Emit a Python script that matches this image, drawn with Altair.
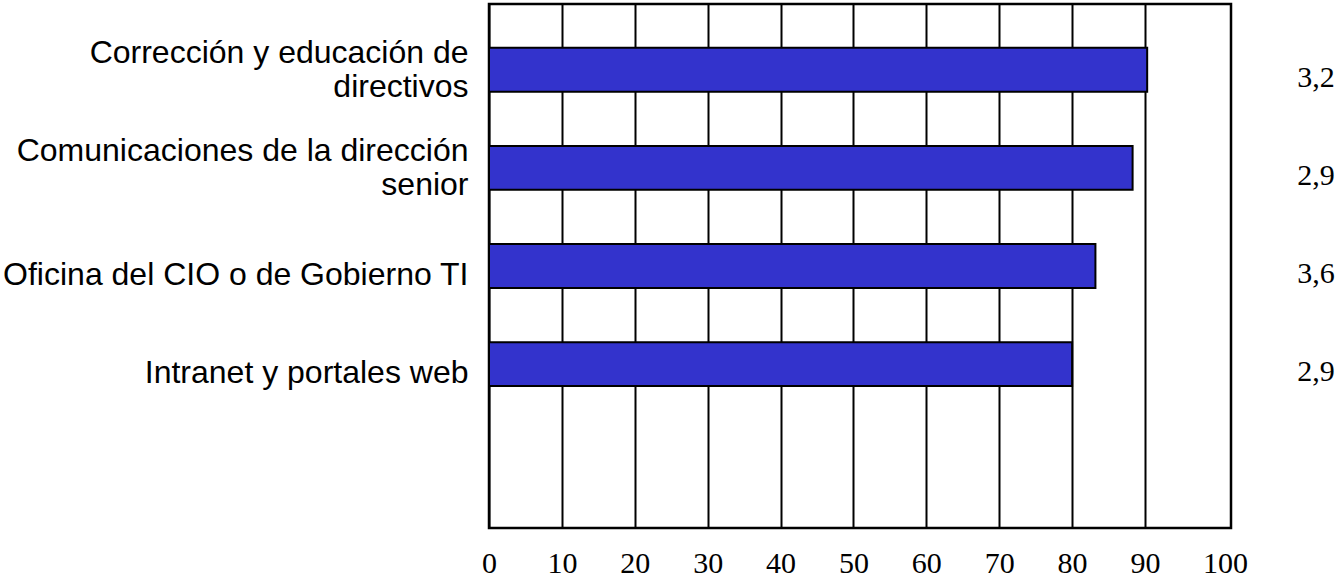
import altair as alt
import pandas as pd

# Categories (top to bottom), bar percentages and the score column on the right
categories = [
    "Corrección y educación de\ndirectivos",
    "Comunicaciones de la dirección\nsenior",
    "Oficina del CIO o de Gobierno TI",
    "Intranet y portales web",
]
percent = [90.3, 88.3, 83.2, 80.0]
scores = [3.2, 2.9, 3.6, 2.9]
x_ticks = list(range(0, 101, 10))

df = pd.DataFrame({"category": categories, "percent": percent, "score": scores})

# one empty slot at the bottom of the band scale
y_domain = categories + [""]

# two-line labels are shifted up by half a line so the block sits on the band
multi_line = "length(split(datum.value, '\\n')) > 1"

y_enc = alt.Y(
    "category:N",
    title=None,
    sort=y_domain,
    scale=alt.Scale(domain=y_domain, paddingInner=0.553, paddingOuter=0.446),
    axis=alt.Axis(
        labelExpr="split(datum.label, '\\n')",
        labelFont="Liberation Sans",
        labelFontSize=32,
        labelLineHeight=34,
        labelColor="black",
        labelPadding=21,
        labelLimit=600,
        labelOffset={"condition": {"test": multi_line, "value": -17}, "value": 9},
        domain=False,
        ticks=False,
        grid=False,
    ),
)

bars = alt.Chart(df).mark_bar(
    color="#3333CC", stroke="black", strokeWidth=2
).encode(
    x=alt.X(
        "percent:Q",
        title=None,
        scale=alt.Scale(domain=[0, 101.8], nice=False, zero=True),
        axis=alt.Axis(
            values=x_ticks,
            grid=True,
            gridColor="black",
            gridWidth=2,
            gridOpacity={"condition": {"test": "datum.value === 100", "value": 0}, "value": 1},
            domain=False,
            ticks=False,
            labelFlush=False,
            labelFont="Liberation Serif",
            labelFontSize=30,
            labelColor="black",
            labelPadding=20,
            labelOffset={"condition": {"test": "datum.value === 100", "value": 7}, "value": 0},
        ),
    ),
    y=y_enc,
)

score_text = alt.Chart(df).transform_calculate(
    score_label="replace(format(datum.score, '.1f'), '.', ',')"
).mark_text(
    font="Liberation Serif", fontSize=30, color="black", align="center", baseline="middle", dy=8
).encode(
    x=alt.value(827),
    y=alt.Y("category:N", sort=y_domain),
    text="score_label:N",
)

chart = (
    alt.layer(bars, score_text)
    .properties(
        width=742,
        height=524,
        autosize=alt.AutoSizeParams(type="none"),
        padding={"left": 489, "top": 4, "right": 108, "bottom": 51},
        background="white",
    )
    .configure_view(stroke="black", strokeWidth=2.5)
)

chart.save("out.html", embed_options={"renderer": "svg", "actions": False})
